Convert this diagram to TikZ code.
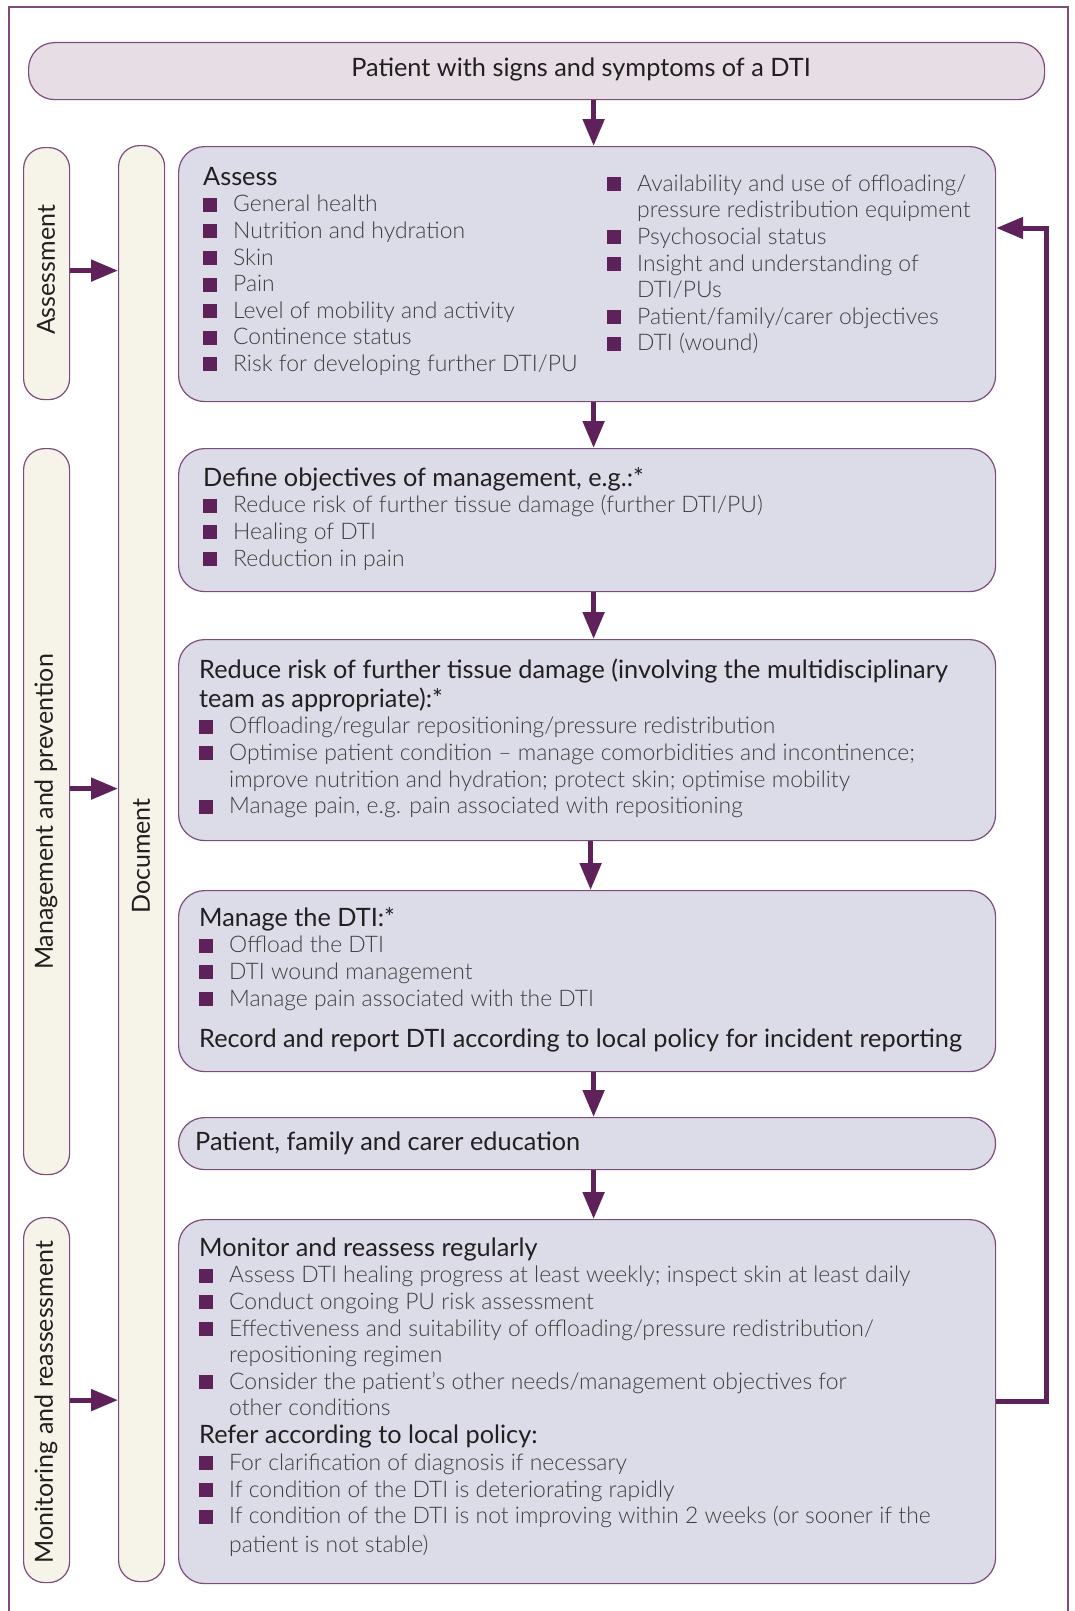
\documentclass[tikz,border=0pt]{standalone}
\usepackage{fontspec}
\setmainfont{Lato}
\IfFontExistsTF{Lato Light}{\newfontfamily\lightfont{Lato Light}}{\newfontfamily\lightfont{Lato}}
\usetikzlibrary{arrows.meta, positioning}
\definecolor{dtipurple}{RGB}{94,33,89}
\definecolor{edgecolor}{RGB}{125,76,122}
\definecolor{stepfill}{RGB}{220,220,232}
\definecolor{topfill}{RGB}{231,221,229}
\definecolor{labelfill}{RGB}{246,243,232}
\definecolor{headtext}{RGB}{35,31,32}
\definecolor{bodytext}{RGB}{62,62,62}
\newcommand{\bul}{\makebox[30pt][l]{\textcolor{dtipurple}{\rule{14pt}{14pt}}}}
\newcommand{\cont}{\hspace*{30pt}}
\newcommand{\firstline}{\rule{0pt}{22pt}}
\newcommand{\hd}[1]{{\rmfamily\fontsize{25.3}{27}\selectfont\color{headtext}#1}}

\begin{document}
\begin{tikzpicture}[
    x=1pt, y=-1pt,
    stepbox/.style={draw=edgecolor, line width=1.2pt, fill=#1, rounded corners=26pt, anchor=north west, inner sep=0pt, minimum width=817pt},
    sidebox/.style={draw=edgecolor, line width=1.2pt, fill=labelfill, rounded corners=21pt, anchor=north west, inner sep=0pt, minimum width=46pt},
    body/.style={anchor=north west, inner sep=0pt, align=left, font=\lightfont\fontsize{22.9}{26.6}\selectfont, text=bodytext},
    sidelabel/.style={rotate=90, inner sep=0pt, font=\fontsize{25}{27}\selectfont, text=headtext},
    arrow/.style={-{Triangle[length=27pt, width=21pt]}, line width=5pt, draw=dtipurple}
]
    \useasboundingbox (0,0) rectangle (1075,1611);
    % outer frame, open at the bottom
    \draw[edgecolor, line width=1.5pt] (9,1611) -- (9,7) -- (1068,7) -- (1068,1611);

    % start
    \node[stepbox=topfill, minimum width=1016pt, minimum height=57pt] (patient) at (28,42) {};
    \node[inner sep=0pt, font=\fontsize{25.3}{27}\selectfont, text=headtext] (patienttext) at (581,69) {Patient with signs and symptoms of a DTI};

    % side labels
    \node[sidebox, minimum height=252pt] (asslabel) at (23,147) {};
    \node[sidebox, minimum height=726pt] (mgmtlabel) at (23,448) {};
    \node[sidebox, minimum height=365pt] (monlabel) at (23,1217) {};
    \node[sidebox, minimum height=1436pt] (doc) at (118,145) {};
    \node[sidelabel] (asstext) at (46,270) {Assessment};
    \node[sidelabel] (mgmttext) at (46,812) {Management and prevention};
    \node[sidelabel] (montext) at (46,1402) {Monitoring and reassessment};
    \node[sidelabel] (doctext) at (141,856) {Document};

    % steps
    \node[stepbox=stepfill, minimum height=255pt] (assess) at (178,146) {};
    \node[stepbox=stepfill, minimum height=143pt] (define) at (178,448) {};
    \node[stepbox=stepfill, minimum height=201pt] (reduce) at (178,639) {};
    \node[stepbox=stepfill, minimum height=181pt] (manage) at (178,890) {};
    \node[stepbox=stepfill, minimum height=52pt] (educate) at (178,1117) {};
    \node[stepbox=stepfill, minimum height=364pt] (monitor) at (178,1219) {};

    \node[body] (assessleft) at (203,163) {\firstline\hd{Assess}\\
        \bul General health\\
        \bul Nutrition and hydration\\
        \bul Skin\\
        \bul Pain\\
        \bul Level of mobility and activity\\
        \bul Continence status\\
        \bul Risk for developing further DTI/PU};
    \node[body] (assessright) at (607,169) {\firstline\bul Availability and use of offloading/\\
        \cont pressure redistribution equipment\\
        \bul Psychosocial status\\
        \bul Insight and understanding of\\
        \cont DTI/PUs\\
        \bul Patient/family/carer objectives\\
        \bul DTI (wound)};
    \node[body] (definetext) at (203,464) {\firstline\hd{Define objectives of management, e.g.:*}\\
        \bul Reduce risk of further tissue damage (further DTI/PU)\\
        \bul Healing of DTI\\
        \bul Reduction in pain};
    \node[body] (reducetext) at (199,656) {\firstline\hd{Reduce risk of further tissue damage (involving the multidisciplinary}\\[2.4pt]
        \hd{team as appropriate):*}\\
        \bul Offloading/regular repositioning/pressure redistribution\\
        \bul Optimise patient condition – manage comorbidities and incontinence;\\
        \cont improve nutrition and hydration; protect skin; optimise mobility\\
        \bul Manage pain, e.g. pain associated with repositioning};
    \node[body] (managetext) at (199,904) {\firstline\hd{Manage the DTI:*}\\
        \bul Offload the DTI\\
        \bul DTI wound management\\
        \bul Manage pain associated with the DTI\\[15pt]
        \hd{Record and report DTI according to local policy for incident reporting}};
    \node[body] (educatetext) at (195,1128) {\firstline\hd{Patient, family and carer education}};
    \node[body] (monitortext) at (199,1234) {\firstline\hd{Monitor and reassess regularly}\\
        \bul Assess DTI healing progress at least weekly; inspect skin at least daily\\
        \bul Conduct ongoing PU risk assessment\\
        \bul Effectiveness and suitability of offloading/pressure redistribution/\\
        \cont repositioning regimen\\
        \bul Consider the patient’s other needs/management objectives for\\
        \cont other conditions\\[1.4pt]
        \hd{Refer according to local policy:}\\
        \bul For clarification of diagnosis if necessary\\
        \bul If condition of the DTI is deteriorating rapidly\\
        \bul If condition of the DTI is not improving within 2 weeks (or sooner if the\\[2.4pt]
        \cont patient is not stable)};

    % flow
    \draw[arrow] ([xshift=6.5pt]assess.north |- patient.south) -- ([xshift=6.5pt]assess.north);
    \draw[arrow] ([xshift=6.5pt]assess.south) -- ([xshift=6.5pt]define.north);
    \draw[arrow] ([xshift=6.5pt]define.south) -- ([xshift=6.5pt]reduce.north);
    \draw[arrow] ([xshift=3.5pt]reduce.south) -- ([xshift=3.5pt]manage.north);
    \draw[arrow] ([xshift=6.5pt]manage.south) -- ([xshift=6.5pt]educate.north);
    \draw[arrow] ([xshift=6.5pt]educate.south) -- ([xshift=6.5pt]monitor.north);

    % into Document
    \draw[arrow] ([yshift=3pt]asslabel.east) -- ([yshift=3pt]asslabel.east -| doc.west);
    \draw[arrow] ([yshift=23pt]mgmtlabel.east) -- ([yshift=23pt]mgmtlabel.east -| doc.west);
    \draw[arrow] (monlabel.east) -- (monlabel.east -| doc.west);

    % Feedback
    \coordinate (loop) at (1046,228);
    \draw[arrow] (monitor.east) -| (loop) -- (loop -| assess.east);
\end{tikzpicture}
\end{document}
